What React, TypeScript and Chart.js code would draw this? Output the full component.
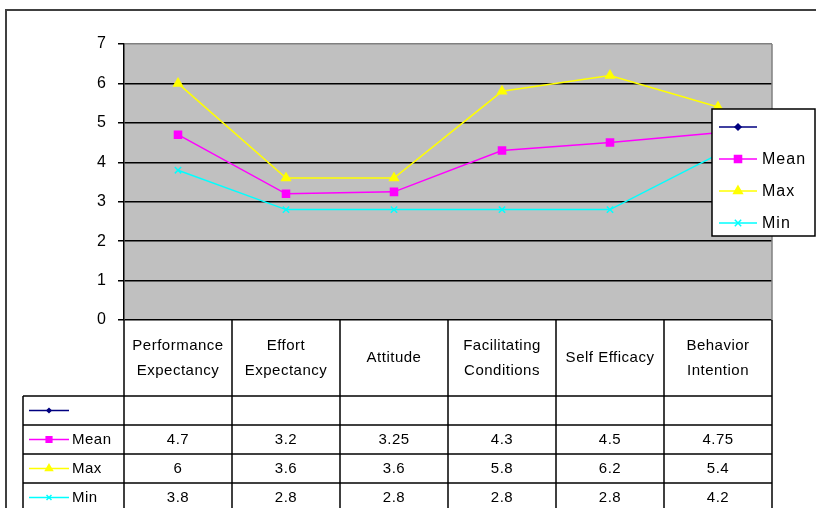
import { useEffect, useRef } from 'react';
import { Chart, registerables } from 'chart.js';
import { drawPoint } from 'chart.js/helpers';

Chart.register(...registerables);

const categories: string[][] = [
  ['Performance', 'Expectancy'],
  ['Effort', 'Expectancy'],
  ['Attitude'],
  ['Facilitating', 'Conditions'],
  ['Self Efficacy'],
  ['Behavior', 'Intention'],
];
const seriesNames = ['', 'Mean', 'Max', 'Min'];
const blankValues: (number | null)[] = [null, null, null, null, null, null];
const meanValues = [4.7, 3.2, 3.25, 4.3, 4.5, 4.75];
const maxValues = [6, 3.6, 3.6, 5.8, 6.2, 5.4];
const minValues = [3.8, 2.8, 2.8, 2.8, 2.8, 4.2];
const yMin = 0;
const yMax = 7;
const yStep = 1;

const seriesColors = ['#000080', '#FF00FF', '#FFFF00', '#00FFFF'];
const seriesPointStyles = ['rectRot', 'rect', 'triangle', 'crossRot'];
const seriesPointRadius = [3, 5, 5, 4.5];
const FONT = '"Liberation Sans", Arial, sans-serif';

const tablePlugin = {
  id: 'tablePlugin',
  beforeDraw(chart: any) {
    const { ctx, chartArea } = chart;
    ctx.save();
    ctx.fillStyle = '#C0C0C0';
    ctx.fillRect(chartArea.left, chartArea.top, chartArea.right - chartArea.left, chartArea.bottom - chartArea.top);
    ctx.restore();
  },
  beforeDatasetsDraw(chart: any) {
    const { ctx, chartArea } = chart;
    ctx.save();
    ctx.strokeStyle = '#808080';
    ctx.lineWidth = 1.5;
    ctx.beginPath();
    ctx.moveTo(chartArea.right, chartArea.top);
    ctx.lineTo(chartArea.right, chartArea.bottom);
    ctx.stroke();
    ctx.restore();
  },
  afterDraw(chart: any) {
    const { ctx, chartArea } = chart;
    const xs = chart.scales.x;
    const n = categories.length;
    const colW = (chartArea.right - chartArea.left) / n;
    const bounds: number[] = [];
    for (let i = 0; i <= n; i++) bounds.push(chartArea.left + i * colW);
    const top = chartArea.bottom;
    const headerBottom = top + 76;
    const rowH = 29;
    const tableLeft = 23;
    const H = chart.height;
    ctx.save();
    ctx.strokeStyle = '#000';
    ctx.lineWidth = 1.5;
    bounds.forEach((bx) => {
      ctx.beginPath();
      ctx.moveTo(bx, top);
      ctx.lineTo(bx, H);
      ctx.stroke();
    });
    ctx.beginPath();
    ctx.moveTo(tableLeft, headerBottom);
    ctx.lineTo(tableLeft, H);
    ctx.stroke();
    for (let r = 0; r < seriesNames.length; r++) {
      const y = headerBottom + r * rowH;
      ctx.beginPath();
      ctx.moveTo(tableLeft, y);
      ctx.lineTo(chartArea.right, y);
      ctx.stroke();
    }
    ctx.fillStyle = '#000';
    ctx.font = `15px ${FONT}`;
    ctx.textAlign = 'center';
    ctx.textBaseline = 'middle';
    (ctx as any).letterSpacing = '0.5px';
    categories.forEach((lines, i) => {
      const cx = xs.getPixelForValue(i);
      const mid = (top + headerBottom) / 2;
      const lh = 25;
      lines.forEach((t, j) => {
        const y = mid + (j - (lines.length - 1) / 2) * lh;
        ctx.fillText(t, cx, y);
      });
    });
    const allValues = [blankValues, meanValues, maxValues, minValues];
    seriesNames.forEach((name, r) => {
      const cy = headerBottom + r * rowH + rowH / 2;
      ctx.strokeStyle = seriesColors[r];
      ctx.fillStyle = seriesColors[r];
      ctx.lineWidth = 1.5;
      ctx.beginPath();
      ctx.moveTo(29, cy);
      ctx.lineTo(69, cy);
      ctx.stroke();
      drawPoint(ctx, { pointStyle: seriesPointStyles[r] as any, radius: seriesPointRadius[r] - 1, rotation: 0, borderWidth: 1.5 }, 49, cy);
      ctx.fillStyle = '#000';
      ctx.textAlign = 'left';
      ctx.fillText(name, 72, cy);
      ctx.textAlign = 'center';
      allValues[r].forEach((v, i) => {
        if (v === null) return;
        ctx.fillText(String(v), xs.getPixelForValue(i), cy);
      });
    });
    (ctx as any).letterSpacing = '0px';
    const lx = 712, ly = 109, lw = 103, lhh = 127;
    ctx.fillStyle = '#fff';
    ctx.fillRect(lx, ly, lw, lhh);
    ctx.strokeStyle = '#000';
    ctx.lineWidth = 1.5;
    ctx.strokeRect(lx, ly, lw, lhh);
    seriesNames.forEach((name, r) => {
      const cy = 127 + r * 32;
      ctx.strokeStyle = seriesColors[r];
      ctx.fillStyle = seriesColors[r];
      ctx.lineWidth = 1.5;
      ctx.beginPath();
      ctx.moveTo(719, cy);
      ctx.lineTo(757, cy);
      ctx.stroke();
      drawPoint(ctx, { pointStyle: seriesPointStyles[r] as any, radius: seriesPointRadius[r], rotation: 0, borderWidth: 1.5 }, 738, cy);
      ctx.fillStyle = '#000';
      ctx.textAlign = 'left';
      ctx.font = `16px ${FONT}`;
      (ctx as any).letterSpacing = '1px';
      ctx.fillText(name, 762, cy + 1);
      (ctx as any).letterSpacing = '0px';
    });
    ctx.strokeStyle = '#404040';
    ctx.lineWidth = 2;
    ctx.beginPath();
    ctx.moveTo(6, H + 5);
    ctx.lineTo(6, 10);
    ctx.lineTo(chart.width + 5, 10);
    ctx.stroke();
    ctx.restore();
  },
};

export default function App() {
  const ref = useRef<HTMLCanvasElement | null>(null);
  useEffect(() => {
    if (!ref.current) return;
    const datasets = [blankValues, meanValues, maxValues, minValues].map((vals, i) => ({
      label: seriesNames[i],
      data: vals,
      borderColor: seriesColors[i],
      backgroundColor: seriesColors[i],
      borderWidth: 1.5,
      pointStyle: seriesPointStyles[i] as any,
      pointRadius: seriesPointRadius[i],
      pointBorderWidth: 1.5,
      pointBackgroundColor: seriesColors[i],
      pointBorderColor: seriesColors[i],
      tension: 0,
      fill: false,
    }));
    const chart = new Chart(ref.current, {
      type: 'line',
      data: { labels: categories.map((c) => c.join(' ')), datasets },
      plugins: [tablePlugin],
      options: {
        responsive: false,
        animation: false,
        layout: { padding: { left: 0, top: 44, right: 44, bottom: 188 } },
        plugins: { legend: { display: false }, tooltip: { enabled: false } },
        scales: {
          x: { display: false, offset: true },
          y: {
            min: yMin,
            max: yMax,
            afterFit: (s: any) => { s.width = 124; },
            ticks: { stepSize: yStep, color: '#000', font: { family: FONT, size: 16 }, padding: 12 },
            grid: {
              color: (c: any) => (c.tick && c.tick.value === yMax ? '#808080' : '#000'),
              tickColor: '#000',
              lineWidth: 1.5,
              tickLength: 6,
            },
            border: { color: '#000', width: 1.5 },
          },
        },
      },
    });
    return () => chart.destroy();
  }, []);
  return (
    <div style={{ position: 'absolute', left: 0, top: 0, width: 816, height: 508, background: '#fff' }}>
      <canvas ref={ref} width={816} height={508} style={{ width: 816, height: 508, display: 'block' }} />
    </div>
  );
}
